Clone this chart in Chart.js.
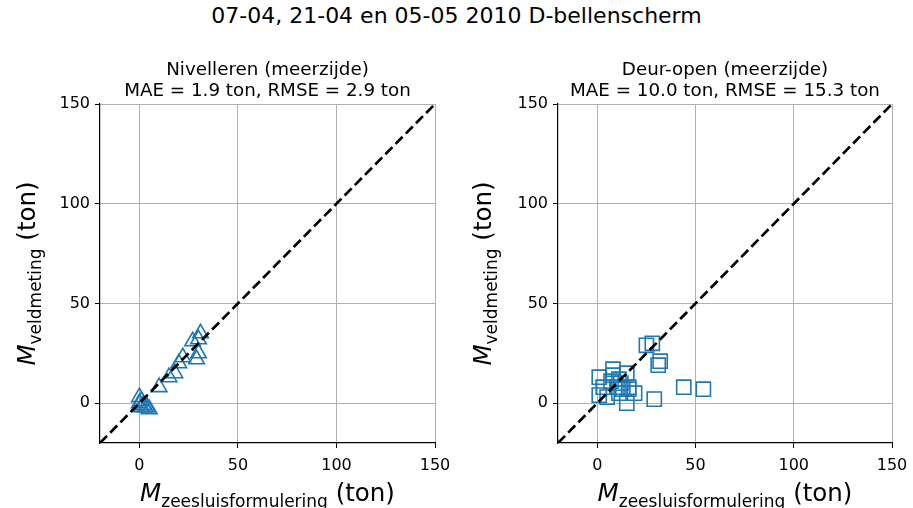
<!DOCTYPE html>
<html lang="nl">
<head>
<meta charset="UTF-8">
<title>D-bellenscherm</title>
<style>
  body { margin: 0; background: #fff; font-family: "DejaVu Sans", sans-serif; }
  #wrap { position: relative; width: 913px; height: 508px; }
  #title { position: absolute; left: 0; top: 3px; width: 913px; text-align: center; font-size: 22px; color: #000; }
  .box { position: absolute; top: 0; height: 508px; }
</style>
<script src="https://cdn.jsdelivr.net/npm/chart.js"></script>
</head>
<body>
<div id="wrap">
  <div id="title">07-04, 21-04 en 05-05 2010 D-bellenscherm</div>
  <div class="box" style="left:0;width:456px"><canvas id="c1" width="456" height="508"></canvas></div>
  <div class="box" style="left:456px;width:457px"><canvas id="c2" width="457" height="508"></canvas></div>
</div>
<script>
// axis ticks
const tickVals = [0, 50, 100, 150];
const axisMin = -20, axisMax = 150;

// Nivelleren (meerzijde)
const nivX = [0, 0, 1, 2, 3, 5, 1, 4, 10, 15, 18, 20, 22, 29, 30, 30, 31, 27];
const nivY = [0, 3, -2, -1, -2, -3, 1, -2, 8, 13, 15, 20, 23, 22, 25, 32, 35, 31];

// Deur-open (meerzijde)
const deurX = [25, 28, 31, 32, 44, 54, 29, 1, 8, 15, 1, 5, 15, 19, 10, 3, 13, 16, 7, 11, 8, 16, 11, 12];
const deurY = [29, 30, 19, 21, 8, 7, 2, 13, 17, 15, 4, 3, 0, 5, 8, 8, 7, 8, 11, 12, 14, 7, 5, 10];

const blue = '#1f77b4';

function pts(xs, ys) { return xs.map((x, i) => ({ x: x, y: ys[i] })); }

function labelPlugin(t1, t2) {
  return {
    id: 'labels',
    afterDraw(chart) {
      const ctx = chart.ctx, a = chart.chartArea;
      const cx = (a.left + a.right) / 2, cy = (a.top + a.bottom) / 2;
      ctx.save();
      ctx.fillStyle = '#000';
      ctx.textAlign = 'center';
      ctx.textBaseline = 'alphabetic';
      ctx.font = '18.3px "DejaVu Sans"';
      ctx.fillText(t1, cx, 75);
      ctx.fillText(t2, cx, 96);
      // axis labels with subscript
      const drawLab = (sub, x, y) => {
        ctx.textAlign = 'left';
        const f1 = 'italic 24.5px "DejaVu Sans"', f2 = '17px "DejaVu Sans"', f3 = '24.5px "DejaVu Sans"';
        ctx.font = f1; const w1 = ctx.measureText('M').width;
        ctx.font = f2; const w2 = ctx.measureText(sub).width;
        ctx.font = f3; const w3 = ctx.measureText(' (ton)').width;
        let s = x - (w1 + w2 + w3) / 2;
        ctx.font = f1; ctx.fillText('M', s, y); s += w1;
        ctx.font = f2; ctx.fillText(sub, s, y + 6); s += w2;
        ctx.font = f3; ctx.fillText(' (ton)', s, y);
      };
      drawLab('zeesluisformulering', cx, 501);
      ctx.translate(35, cy);
      ctx.rotate(-Math.PI / 2);
      drawLab('veldmeting', 0, 0);
      ctx.restore();
    }
  };
}

function axis(pos, leftW) {
  return {
    type: 'linear', position: pos, min: axisMin, max: axisMax,
    afterBuildTicks(s) { s.ticks = tickVals.map(v => ({ value: v })); },
    afterFit(s) {
      if (pos === 'left') { s.width = leftW; s.paddingTop = 0; s.paddingBottom = 0; }
      else { s.height = 65; s.paddingLeft = 0; s.paddingRight = 0; }
    },
    grid: { color: '#b0b0b0', lineWidth: 1, drawTicks: true, tickLength: 5, tickColor: '#000' },
    border: { color: '#000', width: 1.2 },
    ticks: { color: '#000', font: { family: 'DejaVu Sans', size: 16 }, padding: pos === 'left' ? 5 : 8, maxRotation: 0 }
  };
}

function makeChart(id, xs, ys, style, radius, leftW, t1, t2) {
  new Chart(document.getElementById(id), {
    type: 'scatter',
    data: {
      datasets: [
        {
          type: 'line',
          data: [{ x: axisMin, y: axisMin }, { x: axisMax, y: axisMax }],
          borderColor: '#000', borderWidth: 2.7, borderDash: [10, 4.5],
          pointRadius: 0, fill: false, order: 1
        },
        {
          data: pts(xs, ys),
          pointStyle: style, pointRadius: radius, pointHoverRadius: radius,
          backgroundColor: 'rgba(0,0,0,0)', borderColor: blue, borderWidth: 1.6, order: 2
        }
      ]
    },
    options: {
      responsive: false, animation: false,
      layout: { padding: { left: 0, right: 21, top: 104, bottom: 0 } },
      plugins: { legend: { display: false }, tooltip: { enabled: false } },
      scales: { x: axis('bottom', leftW), y: axis('left', leftW) }
    },
    plugins: [labelPlugin(t1, t2)]
  });
}

makeChart('c1', nivX, nivY, 'triangle', 9, 100, 'Nivelleren (meerzijde)', 'MAE = 1.9 ton, RMSE = 2.9 ton');
makeChart('c2', deurX, deurY, 'rect', 10, 102, 'Deur-open (meerzijde)', 'MAE = 10.0 ton, RMSE = 15.3 ton');
</script>
</body>
</html>
